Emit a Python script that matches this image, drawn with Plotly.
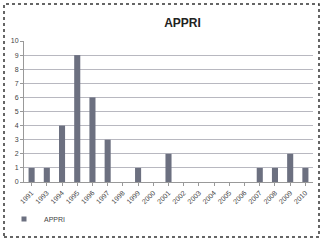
import plotly.graph_objects as go

years = ["1991", "1993", "1994", "1995", "1996", "1997", "1998", "1999", "2000", "2001",
         "2002", "2003", "2004", "2005", "2006", "2007", "2008", "2009", "2010"]
appri = [1, 1, 4, 9, 6, 3, 0, 1, 0, 2, 0, 0, 0, 0, 0, 1, 1, 2, 1]
y_ticks = list(range(0, 11))

W, H = 323, 243
L, R, T, B = 24, 10, 41, 61
BAR_COLOR = "#6c7080"
FONT = "Liberation Sans, Arial"

fig = go.Figure()
fig.add_trace(go.Bar(x=years, y=appri, name="APPRI", showlegend=False,
                     marker=dict(color=BAR_COLOR, line=dict(width=0))))
# legend entry with a small square key
fig.add_trace(go.Scatter(x=[None], y=[None], mode="markers", name="APPRI",
                         marker=dict(symbol="square", size=5, color=BAR_COLOR)))

pw = W - L - R
ph = H - T - B
def px_x(p):
    return (p - L) / pw
def px_y(p):
    return (H - B - p) / ph

fig.add_shape(type="rect", xref="paper", yref="paper",
              x0=px_x(4), x1=px_x(319), y0=px_y(237), y1=px_y(4),
              line=dict(color="#333333", width=1.5, dash="dot"), fillcolor="rgba(0,0,0,0)", layer="above")

fig.update_layout(
    width=W, height=H,
    margin=dict(l=L, r=R, t=T, b=B, autoexpand=False),
    paper_bgcolor="white", plot_bgcolor="white",
    bargap=0.6,
    showlegend=True,
    title=dict(text="<b>APPRI</b>", x=0.565, xanchor="center", y=1 - 23 / H, yanchor="middle",
               font=dict(family=FONT, size=12, color="#222222")),
    legend=dict(x=px_x(4), y=px_y(219), xanchor="left", yanchor="middle", orientation="h",
                font=dict(family=FONT, size=7, color="#444444"),
                itemwidth=30, bgcolor="rgba(0,0,0,0)", tracegroupgap=0),
    xaxis=dict(type="category", tickangle=-45, tickfont=dict(family=FONT, size=7, color="#444444"),
               showline=True, linecolor="#999999", ticks="outside", ticklen=3, tickcolor="#999999",
               showgrid=False, automargin=False),
    yaxis=dict(range=[0, 10], tickvals=y_ticks, tickfont=dict(family=FONT, size=7, color="#444444"),
               showline=True, linecolor="#999999", ticks="outside", ticklen=3, tickcolor="#999999",
               gridcolor="#b8b8c0", gridwidth=1, zeroline=False, automargin=False),
)

fig.write_html("out.html", config={"displayModeBar": False})

with open("out.html", "r", encoding="utf-8") as f:
    html = f.read()
html = html.replace("<body>", "<body style=\"margin:0;padding:0;overflow:hidden\">", 1)
with open("out.html", "w", encoding="utf-8") as f:
    f.write(html)
